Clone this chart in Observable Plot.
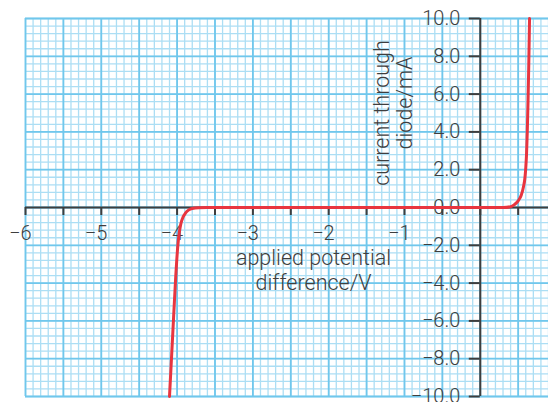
<!DOCTYPE html>
<html><head><meta charset="utf-8">
<script src="https://cdn.jsdelivr.net/npm/d3@7"></script>
<script src="https://cdn.jsdelivr.net/npm/@observablehq/plot@0.6"></script>
<style>body{margin:0;background:#fff;overflow:hidden}svg{display:block}</style>
</head><body><div id="chart"></div>
<script>
// Diode characteristic
const voltage = [-4.10,-4.06,-4.02,-3.99,-3.97,-3.95,-3.92,-3.89,-3.85,-3.80,-3.72,-3.60,-3.00,-2.00,-1.00,0.00,0.30,0.40,0.45,0.50,0.54,0.57,0.59,0.60,0.61,0.62,0.63,0.64,0.65];
const current = [-10,-6.9,-3.8,-2.0,-1.3,-0.85,-0.5,-0.3,-0.14,-0.05,-0.01,0,0,0,0,0,0,0.04,0.15,0.35,0.65,1.1,1.6,2.1,2.8,4.0,5.6,7.6,10];

// Axis ticks and labels
const xTicks = [-6,-5.5,-5,-4.5,-4,-3.5,-3,-2.5,-2,-1.5,-1,-0.5,0,0.5];
const xTickLabels = [-6,-5,-4,-3,-2,-1];
const yTicks = [-10,-8,-6,-4,-2,0,2,4,6,8,10];
const xTitle = ["applied potential","difference/V"];
const yTitle = ["current through","diode/mA"];

const data = voltage.map((v,i)=>({v, i: current[i]}));
const minorX = d3.range(-60, 10).map(k => k/10);
const majorX = d3.range(-12, 2).map(k => k/2);
const minorY = d3.range(-25, 26).map(k => k*0.4);
const majorY = d3.range(-5, 6).map(k => k*2);
const fmt = n => (n < 0 ? "\u2212" : "") + Math.abs(n);
const fmtY = n => (n < 0 ? "\u2212" : "") + Math.abs(n).toFixed(1);
const ink = "#3e3e3e";
const txt = {fill: ink, fontWeight: 300, fontSize: 20};
const ttl = {fill: ink, fontWeight: 300, fontSize: 21.5};

const chart = Plot.plot({
  width: 548, height: 402,
  marginLeft: 25, marginRight: 0, marginTop: 18, marginBottom: 6,
  x: {domain: [-6, 0.9], axis: null},
  y: {domain: [-10, 10], axis: null},
  style: {fontFamily: "Roboto, 'Liberation Sans', sans-serif", background: "#fff", overflow: "visible"},
  marks: [
    Plot.ruleX(minorX, {stroke: "#acdef4", strokeWidth: 1.3}),
    Plot.ruleY(minorY, {stroke: "#acdef4", strokeWidth: 1.3}),
    Plot.ruleX(majorX, {stroke: "#70c7ec", strokeWidth: 1.8}),
    Plot.ruleY(majorY, {stroke: "#70c7ec", strokeWidth: 1.8}),
    // titles
    Plot.text([xTitle[0]], {x: -2.2, y: -3.05, text: d => d, textAnchor: "middle", lineAnchor: "bottom", ...ttl}),
    Plot.text([xTitle[1]], {x: -2.2, y: -4.35, text: d => d, textAnchor: "middle", lineAnchor: "bottom", ...ttl}),
    Plot.text([yTitle[0]], {x: -1.21, y: 5.0, text: d => d, rotate: -90, textAnchor: "middle", lineAnchor: "bottom", ...ttl}),
    Plot.text([yTitle[1]], {x: -0.90, y: 5.53, text: d => d, rotate: -90, textAnchor: "middle", lineAnchor: "bottom", ...ttl}),
    // tick labels
    Plot.text(xTickLabels, {x: d => d, y: 0, text: fmt, dy: 26, dx: 6, textAnchor: "end", ...txt}),
    Plot.text(yTicks, {x: 0, y: d => d, text: fmtY, dx: -20, textAnchor: "end", lineAnchor: "middle", ...txt}),
    // axes
    Plot.ruleY([0], {x1: -6, x2: 0.9, stroke: ink, strokeWidth: 2}),
    Plot.ruleX(xTicks, {y1: 0, y2: -8/18.9, stroke: ink, strokeWidth: 2}),
    Plot.ruleX([0], {y1: -10, y2: 10, stroke: ink, strokeWidth: 2}),
    Plot.ruleY(yTicks, {x1: 0, x2: -11/75.8, stroke: ink, strokeWidth: 2}),
    // curve
    Plot.line(data, {x: "v", y: "i", stroke: "#e8353f", strokeWidth: 3, curve: "monotone-x"})
  ]
});
document.getElementById("chart").append(chart);
</script>
</body></html>
